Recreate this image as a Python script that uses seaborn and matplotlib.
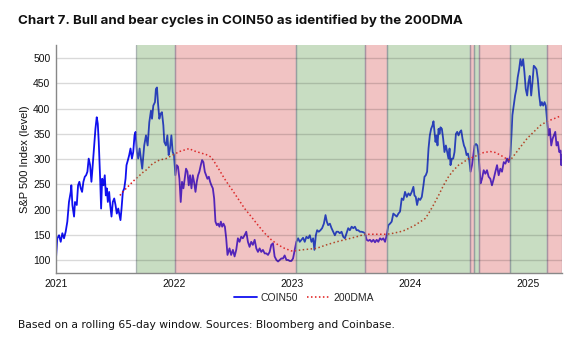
import matplotlib
matplotlib.use("Agg")
import matplotlib.pyplot as plt
import seaborn as sns
import pandas as pd

# ---- data (x in years since 1 Jan 2021) ----
coin_t = [0.000, 0.011, 0.026, 0.040, 0.054, 0.068, 0.082, 0.096, 0.110, 0.125, 0.130, 0.139, 0.153, 0.161,
          0.176, 0.187, 0.198, 0.210, 0.221, 0.232, 0.244, 0.255, 0.266, 0.277, 0.289, 0.300, 0.311, 0.323,
          0.334, 0.345, 0.354, 0.362, 0.374, 0.382, 0.391, 0.402, 0.413, 0.422, 0.430, 0.439, 0.450, 0.459,
          0.470, 0.481, 0.493, 0.504, 0.515, 0.527, 0.538, 0.546, 0.555, 0.566, 0.578, 0.589, 0.597, 0.609,
          0.620, 0.631, 0.643, 0.654, 0.665, 0.674, 0.685, 0.696, 0.708, 0.719, 0.730,
          0.747, 0.762, 0.776, 0.790, 0.804, 0.813, 0.824, 0.838, 0.846, 0.855, 0.863, 0.875, 0.886, 0.897,
          0.909, 0.917, 0.931, 0.943, 0.954, 0.965, 0.977, 0.988, 0.999, 1.011, 1.022, 1.033, 1.045, 1.056,
          1.067, 1.079, 1.090, 1.101, 1.113, 1.124, 1.135, 1.147, 1.158, 1.169, 1.181, 1.192, 1.203, 1.214,
          1.226, 1.237, 1.248, 1.260, 1.271, 1.282, 1.294, 1.305, 1.316, 1.328, 1.339, 1.350, 1.362, 1.373,
          1.384, 1.396, 1.407, 1.418, 1.430, 1.441, 1.452,
          1.469, 1.483, 1.498, 1.512, 1.526, 1.540, 1.554, 1.568, 1.582, 1.597, 1.611, 1.625, 1.639, 1.653,
          1.667, 1.682, 1.696, 1.710, 1.724, 1.738, 1.752, 1.767, 1.781, 1.795, 1.809, 1.823, 1.837, 1.851,
          1.866, 1.880, 1.894, 1.908, 1.922, 1.936, 1.951, 1.965, 1.979, 1.993, 2.007, 2.021, 2.035, 2.050,
          2.064, 2.078, 2.092, 2.106, 2.120, 2.135,
          2.149, 2.163, 2.177, 2.188, 2.200, 2.211, 2.225, 2.239, 2.253, 2.268, 2.282, 2.293, 2.304, 2.319,
          2.333, 2.347, 2.361, 2.375, 2.389, 2.403, 2.418, 2.432, 2.446, 2.460, 2.474, 2.488, 2.503, 2.517,
          2.531, 2.545, 2.559, 2.573, 2.587, 2.602, 2.616, 2.630, 2.644, 2.658, 2.672, 2.687, 2.701, 2.715,
          2.729, 2.743, 2.757, 2.771, 2.786, 2.800, 2.814, 2.828, 2.842, 2.856, 2.871, 2.885, 2.899,
          2.913, 2.927, 2.941, 2.955, 2.970, 2.984, 2.998, 3.012, 3.026, 3.035, 3.046, 3.057, 3.069, 3.083,
          3.097, 3.111, 3.120, 3.131, 3.142, 3.154, 3.165, 3.176, 3.188, 3.196, 3.205, 3.213, 3.222, 3.230,
          3.239, 3.247, 3.255, 3.267, 3.278, 3.289, 3.301, 3.312, 3.323, 3.332, 3.340, 3.352, 3.363, 3.374,
          3.386, 3.397, 3.408, 3.420, 3.431, 3.442, 3.454, 3.465, 3.476, 3.488, 3.499, 3.510, 3.522, 3.533,
          3.544, 3.556, 3.567, 3.578, 3.590, 3.595,
          3.607, 3.621, 3.635, 3.649, 3.663, 3.677, 3.691, 3.706, 3.720, 3.734, 3.748, 3.762, 3.776, 3.791,
          3.805, 3.819, 3.833, 3.847, 3.856, 3.864, 3.875, 3.887, 3.898, 3.909, 3.921, 3.932, 3.943, 3.955,
          3.966, 3.977, 3.989, 4.000, 4.011, 4.023, 4.034, 4.045, 4.057, 4.068, 4.079, 4.091, 4.102, 4.113,
          4.125, 4.136, 4.147, 4.159, 4.170, 4.181, 4.193, 4.204, 4.215, 4.227, 4.238, 4.249, 4.261, 4.272,
          4.278, 4.283]
coin_v = [103, 143, 149, 136, 153, 143, 156, 176, 215, 235, 248, 209, 186, 215,
          209, 248, 255, 242, 235, 255, 265, 268, 275, 301, 288, 255, 288, 327,
          360, 383, 370, 334, 261, 202, 261, 248, 268, 228, 242, 215, 235, 209,
          186, 215, 222, 209, 192, 202, 189, 179, 202, 235, 242, 261, 288, 298,
          308, 321, 301, 314, 347, 354, 314, 301, 321, 301, 281,
          327, 347, 327, 373, 396, 380, 406, 413, 439, 442, 413, 380, 390, 393,
          367, 334, 327, 347, 308, 321, 347, 314, 308, 268, 288, 285, 261, 215,
          255, 242, 261, 281, 275, 248, 268, 242, 268, 255, 235, 255, 268, 275,
          288, 298, 294, 275, 268, 261, 265, 255, 248, 242, 222, 176, 169, 172,
          166, 176, 166, 172, 166, 143, 110,
          123, 110, 120, 107, 120, 143, 136, 146, 143, 149, 156, 136, 126, 136,
          130, 140, 123, 116, 123, 116, 120, 113, 113, 110, 116, 130, 133, 107,
          100, 97, 100, 103, 103, 109, 100, 100, 98, 98, 103, 120, 136, 143,
          136, 140, 144, 136, 146, 143,
          149, 136, 143, 120, 149, 159, 156, 159, 163, 172, 189, 176, 169, 172,
          163, 156, 149, 156, 156, 153, 156, 146, 143, 153, 163, 159, 166, 163,
          166, 159, 159, 156, 156, 155, 153, 140, 138, 140, 136, 140, 135, 140,
          136, 143, 140, 143, 136, 149, 169, 172, 176, 192, 189, 186, 192,
          196, 222, 219, 235, 225, 232, 228, 235, 245, 228, 225, 209, 222, 219,
          225, 248, 265, 268, 275, 321, 347, 360, 367, 375, 354, 334, 347, 327,
          360, 350, 363, 360, 340, 314, 327, 314, 301, 321, 288, 301, 301, 314,
          350, 354, 347, 354, 357, 340, 327, 321, 308, 311, 298, 275, 288, 308,
          327, 330, 327, 308, 268, 252,
          261, 278, 271, 278, 265, 261, 248, 261, 275, 288, 268, 281, 275, 294,
          291, 301, 294, 308, 347, 387, 406, 426, 439, 462, 478, 498, 485, 498,
          472, 439, 426, 452, 465, 426, 452, 485, 482, 478, 459, 426, 406, 413,
          406, 413, 406, 373, 347, 360, 327, 340, 347, 354, 327, 334, 314, 317,
          288, 308]

dma_t = [0.541, 0.578, 0.620, 0.662, 0.705, 0.742, 0.762, 0.818, 0.875, 0.931, 0.988, 1.045, 1.101,
         1.130, 1.158, 1.214, 1.271, 1.314, 1.342, 1.384, 1.427, 1.464, 1.483, 1.540, 1.597, 1.653,
         1.710, 1.767, 1.823, 1.880, 1.936, 1.993, 2.021, 2.078, 2.163, 2.205, 2.290, 2.375, 2.460,
         2.545, 2.616, 2.658, 2.743, 2.800, 2.856, 2.913, 2.955, 3.040, 3.125, 3.154, 3.196, 3.239,
         3.281, 3.323, 3.366, 3.408, 3.451, 3.493, 3.536, 3.578, 3.621, 3.677, 3.720, 3.762, 3.805,
         3.847, 3.890, 3.932, 3.989, 4.045, 4.102, 4.159, 4.215, 4.266]
dma_v = [228, 238, 248, 258, 267, 275, 278, 291, 298, 301, 308, 315, 319,
         321, 317, 313, 309, 304, 294, 278, 261, 248, 242, 222, 202, 186,
         169, 153, 140, 130, 123, 118, 118, 120, 122, 123, 130, 136, 141,
         146, 151, 151, 151, 151, 153, 156, 159, 169, 182, 192, 209, 228,
         248, 265, 278, 288, 294, 301, 304, 309, 313, 315, 313, 308, 302,
         298, 311, 324, 341, 354, 367, 375, 380, 385]

# regime bands (years since 2021): start, end, regime
band_start = [0.677, 1.010, 2.036, 2.620, 2.805, 3.502, 3.536, 3.584, 3.847, 4.157]
band_end = [1.010, 2.036, 2.620, 2.805, 3.502, 3.536, 3.584, 3.847, 4.157, 4.285]
band_regime = ["bull", "bear", "bull", "bear", "bull", "bear", "bull", "bear", "bull", "bear"]

year_ticks = [2021, 2022, 2023, 2024, 2025]
y_ticks = [100, 150, 200, 250, 300, 350, 400, 450, 500]

# ---- figure ----
sns.set_theme(style="white")
plt.rcParams["font.family"] = ["Liberation Sans", "DejaVu Sans"]

fig = plt.figure(figsize=(5.73, 3.47), dpi=100)
ax = fig.add_axes([0.0977, 0.213, 0.8833, 0.657])

coin_df = pd.DataFrame({"year": [2021 + t for t in coin_t], "value": coin_v})
dma_df = pd.DataFrame({"year": [2021 + t for t in dma_t], "value": dma_v})

sns.lineplot(data=coin_df, x="year", y="value", ax=ax, color="#1010f0", lw=1.3,
             label="COIN50", zorder=2)
sns.lineplot(data=dma_df, x="year", y="value", ax=ax, color="#e01818", lw=1.1,
             linestyle=(0, (1, 1.6)), label="200DMA", zorder=2)

colors = {"bull": "#5e9e4c", "bear": "#d65050"}
for s, e, r in zip(band_start, band_end, band_regime):
    ax.axvspan(2021 + s, 2021 + e, facecolor=colors[r], alpha=0.34, edgecolor="none", zorder=3)
    for xb in (2021 + s, 2021 + e):
        ax.axvline(xb, color="#8a8aa0", lw=1.0, alpha=0.5, zorder=3)

for yv in y_ticks:
    ax.axhline(yv, color="black", alpha=0.15, lw=1.0, zorder=4)

ax.set_xlim(2021.0, 2025.285)
ax.set_ylim(74, 526)
ax.set_xticks(year_ticks)
ax.set_xticklabels([str(y) for y in year_ticks])
ax.set_yticks(y_ticks)
ax.tick_params(axis="both", length=0, labelsize=7.5, colors="#111111", pad=4)
ax.set_xlabel("")
ax.set_ylabel("S&P 500 Index (level)", fontsize=8, color="#111111", labelpad=2)

for sp in ["top", "right"]:
    ax.spines[sp].set_visible(False)
for sp in ["left", "bottom"]:
    ax.spines[sp].set_color("#888888")
    ax.spines[sp].set_linewidth(1.0)
    ax.spines[sp].set_zorder(5)

leg = ax.legend(loc="upper center", bbox_to_anchor=(0.49, -0.045), ncol=2, frameon=False,
                fontsize=7.5, handlelength=2.2, columnspacing=0.8, handletextpad=0.4)

fig.text(0.031, 0.94, "Chart 7. Bull and bear cycles in COIN50 as identified by the 200DMA",
         fontsize=9.6, fontweight="bold", family=["Inter", "DejaVu Sans"], color="#111111",
         va="center", ha="left")
fig.text(0.031, 0.063, "Based on a rolling 65-day window. Sources: Bloomberg and Coinbase.",
         fontsize=7.75, family=["DejaVu Sans"], color="#111111", va="center", ha="left")

fig.savefig("out.png", dpi=100)
